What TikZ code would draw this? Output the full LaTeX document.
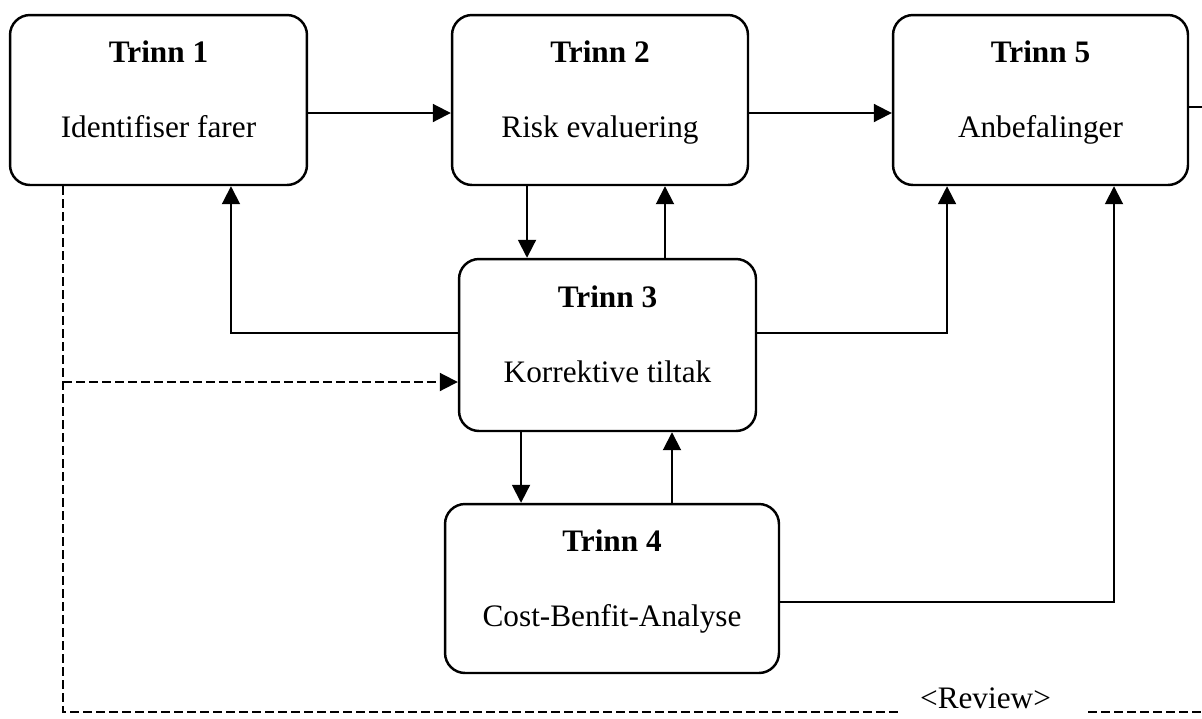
\documentclass[tikz,border=0pt]{standalone}
\usepackage{fontspec}
\setmainfont{Liberation Serif}
\usetikzlibrary{positioning, arrows.meta}

\newcommand{\trinn}[2]{\rule{0pt}{14pt}\textbf{Trinn #1}\\[21.7pt]#2\rule[-14pt]{0pt}{14pt}}

\begin{document}
\begin{tikzpicture}[x=0.02cm, y=-0.02cm,
	box/.style={rectangle, rounded corners=0.4cm, draw, line width=1.4pt, align=center, inner sep=0pt, font=\fontsize{17.8pt}{21pt}\selectfont},
	arr/.style={line width=1.1pt, -{Triangle[length=0.36cm, width=0.36cm]}},
	dline/.style={line width=1.1pt, dash pattern=on 0.18cm off 0.08cm}]
	\useasboundingbox (0,0) rectangle (1202,718);

	\node[box, minimum width=5.94cm, minimum height=3.4cm] (trinn1) at (158.5,100) {\trinn{1}{Identifiser farer}};
	\node[box, minimum width=5.92cm, minimum height=3.4cm] (trinn2) at (600,100) {\trinn{2}{Risk evaluering}};
	\node[box, minimum width=5.9cm, minimum height=3.4cm] (trinn5) at (1040.5,100) {\trinn{5}{Anbefalinger}};
	\node[box, minimum width=5.94cm, minimum height=3.44cm] (trinn3) at (607.5,345) {\trinn{3}{Korrektive tiltak}};
	\node[box, minimum width=6.68cm, minimum height=3.38cm] (trinn4) at (612,588.5) {\trinn{4}{Cost-Benfit-Analyse}};
	\node[font=\fontsize{17.8pt}{21pt}\selectfont, inner xsep=0.36cm, inner ysep=0pt, text height=0.44cm, text depth=0.6cm] (review) at (985.5,712) {<Review>};

	\coordinate (stub) at (1202,107);
	\coordinate (rend) at (1202,712);
	\coordinate (dtop) at ([xshift=-1.91cm]trinn1.south);
	\coordinate (t3in) at ([yshift=-0.74cm]trinn3.west);

	\draw[arr] ([yshift=-0.26cm]trinn1.east) -- ([yshift=-0.26cm]trinn2.west);
	\draw[arr] ([yshift=-0.26cm]trinn2.east) -- ([yshift=-0.26cm]trinn5.west);
	\draw[line width=1.1pt] (trinn5.east |- stub) -- (stub);
	\draw[arr] ([xshift=-1.46cm]trinn2.south) -- ([xshift=-1.46cm]trinn2.south |- trinn3.north);
	\draw[arr] ([xshift=1.15cm]trinn3.north) -- ([xshift=1.15cm]trinn3.north |- trinn2.south);
	\draw[arr] ([yshift=0.24cm]trinn3.west) -| ([xshift=1.45cm]trinn1.south);
	\draw[arr] ([yshift=0.24cm]trinn3.east) -| ([xshift=-1.87cm]trinn5.south);
	\draw[arr] ([xshift=-1.73cm]trinn3.south) -- ([xshift=-1.73cm]trinn3.south |- trinn4.north);
	\draw[arr] ([xshift=1.2cm]trinn4.north) -- ([xshift=1.2cm]trinn4.north |- trinn3.south);
	\draw[arr] ([yshift=-0.27cm]trinn4.east) -| ([xshift=1.47cm]trinn5.south);

	% review loop
	\draw[dline] (dtop) |- (review.west);
	\draw[dline] ([xshift=0.38cm]review.east) -- (rend);
	\draw[dline, arr] (dtop |- t3in) -- (t3in);
\end{tikzpicture}
\end{document}
